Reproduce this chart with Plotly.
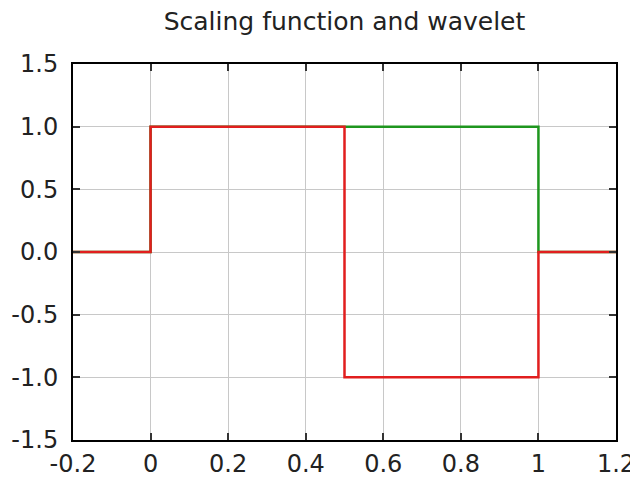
import plotly.graph_objects as go

# Haar scaling function (phi) and wavelet (psi)
phi_x = [-0.2, 0, 0, 1, 1, 1.2]
phi_y = [0, 0, 1, 1, 0, 0]
psi_x = [-0.2, 0, 0, 0.5, 0.5, 1, 1, 1.2]
psi_y = [0, 0, 1, 1, -1, -1, 0, 0]

x_ticks = [-0.2, 0, 0.2, 0.4, 0.6, 0.8, 1, 1.2]
x_tick_text = ["-0.2", "0", "0.2", "0.4", "0.6", "0.8", "1", "1.2"]
y_ticks = [-1.5, -1.0, -0.5, 0.0, 0.5, 1.0, 1.5]
y_tick_text = ["-1.5", "-1.0", "-0.5", "0.0", "0.5", "1.0", "1.5"]

fig = go.Figure()
fig.add_trace(go.Scatter(x=phi_x, y=phi_y, mode="lines",
                         line=dict(color="rgb(30,150,30)", width=2.5), showlegend=False))
fig.add_trace(go.Scatter(x=psi_x, y=psi_y, mode="lines",
                         line=dict(color="rgb(225,30,30)", width=2.5), showlegend=False))

axis_common = dict(showline=True, linecolor="black", linewidth=2, mirror="ticks",
                   ticks="inside", ticklen=7, tickwidth=2, tickcolor="#333",
                   showgrid=True, gridcolor="#c8c8c8", gridwidth=1, zeroline=False,
                   automargin=False,
                   tickfont=dict(family="DejaVu Sans", size=24, color="#222"))

fig.update_xaxes(range=[-0.2, 1.2], tickvals=x_ticks, ticktext=x_tick_text,
                 ticklabelstandoff=1, **axis_common)
fig.update_yaxes(range=[-1.5, 1.5], tickvals=y_ticks, ticktext=y_tick_text,
                 ticklabelstandoff=8, **axis_common)

# page body has an 8px default margin; size the figure to fit the window
fig.update_layout(
    width=630, height=471,
    margin=dict(l=65, r=22, t=56, b=39),
    paper_bgcolor="white", plot_bgcolor="white",
    title=dict(text="Scaling function and wavelet", xref="paper", x=0.5, xanchor="center",
               y=1 - 13 / 471, yanchor="middle", automargin=False,
               font=dict(family="DejaVu Sans", size=25, color="#222")),
)

fig.write_html("out.html")
